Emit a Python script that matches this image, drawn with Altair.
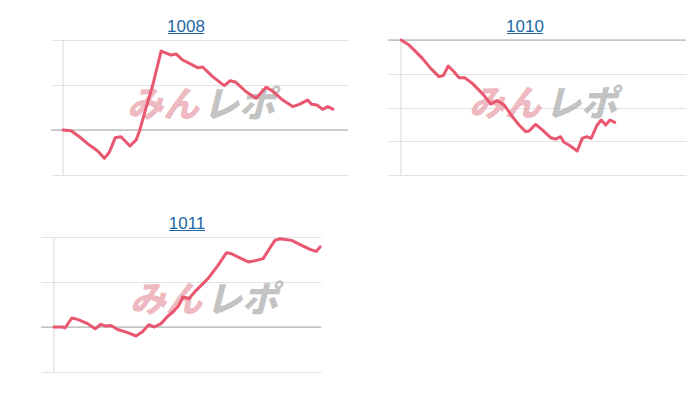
import altair as alt
import pandas as pd

# ---- data ----
TITLES = ["1008", "1010", "1011"]

X_1008 = [0, 170, 345, 555, 730, 870, 975, 1100, 1220, 1410, 1540, 1605, 1745, 1890, 2065, 2275, 2380, 2520, 2660, 2835,
          2940, 3150, 3395, 3520, 3640, 3855, 4065, 4275, 4415, 4625, 4835, 4975, 5150, 5235, 5345, 5465, 5575, 5680]
Y_1008 = [0, -15, -150, -335, -465, -630, -495, -170, -150, -355, -220, -40, 480, 1000, 1755, 1665, 1690, 1555, 1480, 1385,
          1400, 1185, 985, 1095, 1060, 850, 705, 950, 865, 665, 520, 570, 665, 570, 555, 460, 520, 465]

X_1010 = [0, 170, 310, 450, 625, 800, 890, 995, 1115, 1220, 1340, 1500, 1710, 1890, 2025, 2170, 2345, 2485, 2625, 2695,
          2835, 2975, 3150, 3255, 3360, 3430, 3535, 3710, 3815, 3910, 4005, 4120, 4215, 4310, 4400, 4500]
Y_1010 = [0, -150, -345, -545, -840, -1085, -1055, -770, -940, -1115, -1115, -1285, -1580, -1895, -1795, -1925, -2270, -2520, -2715, -2695,
          -2500, -2665, -2895, -2935, -2865, -3030, -3110, -3290, -2915, -2865, -2915, -2540, -2370, -2520, -2370, -2440]

X_1011 = [0, 190, 250, 400, 530, 755, 925, 1055, 1165, 1280, 1430, 1655, 1845, 1995, 2130, 2255, 2405, 2560, 2685, 2800,
          2895, 3030, 3195, 3460, 3685, 3875, 3985, 4175, 4365, 4550, 4700, 4815, 4965, 5075, 5340, 5565, 5755, 5890, 5980]
Y_1011 = [0, 0, -20, 200, 170, 75, -40, 60, 20, 35, -55, -125, -200, -100, 50, 0, 75, 245, 345, 470,
          665, 630, 815, 1075, 1370, 1650, 1630, 1535, 1445, 1480, 1520, 1700, 1925, 1960, 1925, 1815, 1725, 1680, 1780]

X_MAX = 6000
Y_DOMAINS = [[-1000, 2000], [-4000, 0], [-1000, 2000]]
Y_TICKS = [[-1000, 0, 1000, 2000], [-4000, -3000, -2000, -1000, 0], [-1000, 0, 1000, 2000]]

LINE_COLOR = "#e9566f"
GRID_COLOR = "#e2e2e2"
DOMAIN_COLOR = "#d8d8d8"
BASE_COLOR = "#a8a8a8"
TITLE_COLOR = "#1d67a3"


def panel(title, xs, ys, ydom, yticks, inner_w, height, tick, shift, title_x, wm_x, wm_y):
    # shift: empty strip (px) between the plot's left edge and the vertical axis line
    width = inner_w + shift
    x_min = -shift / inner_w * X_MAX
    df = pd.DataFrame({"x": xs, "y": ys})
    x_enc = alt.X("x:Q", scale=alt.Scale(domain=[x_min, X_MAX], nice=False, zero=False), axis=None)
    y_enc = alt.Y("y:Q", scale=alt.Scale(domain=ydom, nice=False),
                  axis=alt.Axis(values=yticks, labels=False, title=None, ticks=True, tickSize=tick,
                                tickColor=GRID_COLOR, gridColor=GRID_COLOR, domain=False,
                                minExtent=13, maxExtent=13))
    line = alt.Chart(df).mark_line(color=LINE_COLOR, strokeWidth=3, strokeJoin="round", strokeCap="round").encode(
        x=x_enc, y=y_enc,
    )
    baseline = alt.Chart(pd.DataFrame({"y": [0]})).mark_rule(color=BASE_COLOR, strokeWidth=1).encode(
        y=y_enc, x=alt.value(-tick), x2=alt.value(width)
    )
    vaxis = alt.Chart(pd.DataFrame({"x": [0]})).mark_rule(color=DOMAIN_COLOR, strokeWidth=1).encode(
        x=x_enc, y=alt.value(0), y2=alt.value(height)
    )
    one = alt.Chart(pd.DataFrame({"t": [title]}))
    wm1 = one.mark_text(text="みん", font="Noto Sans CJK JP", fontSize=36, fontWeight=900, fontStyle="italic",
                        color="#e9a2ab", opacity=0.75, align="right", baseline="middle").encode(
        x=alt.value(shift + wm_x - 1), y=alt.value(wm_y))
    wm2 = one.mark_text(text="レポ", font="Noto Sans CJK JP", fontSize=36, fontWeight=900, fontStyle="italic",
                        color="#b0b0b0", opacity=0.75, align="left", baseline="middle").encode(
        x=alt.value(shift + wm_x + 3), y=alt.value(wm_y))
    tx = shift + title_x
    ttl = one.mark_text(font="Liberation Sans", fontSize=17, color=TITLE_COLOR, align="center",
                        baseline="alphabetic").encode(
        text="t:N", x=alt.value(tx), y=alt.value(-8))
    underline = one.mark_rule(color=TITLE_COLOR, strokeWidth=1.2).encode(
        x=alt.value(tx - 18), x2=alt.value(tx + 18), y=alt.value(-6.5))
    return alt.layer(vaxis, baseline, wm1, wm2, line, ttl, underline).properties(
        width=width, height=height,
        view=alt.ViewBackground(strokeWidth=0, strokeOpacity=0),
    )


p1 = panel(TITLES[0], X_1008, Y_1008, Y_DOMAINS[0], Y_TICKS[0], 285, 135, 3, 9, 123, 137, 66)
p2 = panel(TITLES[1], X_1010, Y_1010, Y_DOMAINS[1], Y_TICKS[1], 285, 135, 13, 0, 124, 141, 65)
p3 = panel(TITLES[2], X_1011, Y_1011, Y_DOMAINS[2], Y_TICKS[2], 267, 135, 13, 0, 133, 149, 64)

chart = alt.vconcat(
    alt.hconcat(p1, p2, spacing=38),
    alt.hconcat(p3),
    spacing=39,
).properties(
    padding={"left": 32, "top": 10, "right": 0, "bottom": 0}
).configure_view(
    stroke="transparent", strokeWidth=0, strokeOpacity=0
).configure_axis(domain=False).configure(background="white")

chart.save("out.html", embed_options={"renderer": "svg", "actions": False})
